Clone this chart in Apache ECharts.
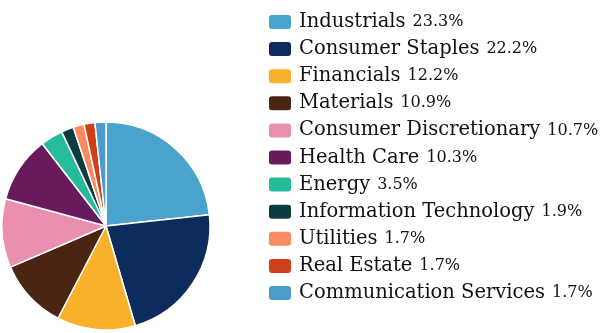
<!DOCTYPE html>
<html><head><meta charset="utf-8">
<script src="https://cdn.jsdelivr.net/npm/echarts@6/dist/echarts.min.js"></script>
<style>html,body{margin:0;padding:0;background:#fff}#c{width:600px;height:333px}</style>
</head><body><div id="c"></div>
<script>
const categories = ["Industrials","Consumer Staples","Financials","Materials","Consumer Discretionary","Health Care","Energy","Information Technology","Utilities","Real Estate","Communication Services"];
const values = [23.3,22.2,12.2,10.9,10.7,10.3,3.5,1.9,1.7,1.7,1.7];
const colors = ["#4aa3cc","#0c2c5c","#f9b12c","#4b2414","#eb8fb0","#691a5c","#25bb9b","#0b3c40","#fc8a60","#cf3f19","#4a9ccb"];

const chart = echarts.init(document.getElementById('c'), null, {renderer:'canvas'});
chart.setOption({
  animation:false,
  color: colors,
  legend: {
    orient:'vertical', left:267, top:12, padding:0,
    itemWidth:24, itemHeight:16, itemGap:7.1, icon:'roundRect',
    selectedMode:false,
    formatter: function(name){
      const i = categories.indexOf(name);
      return '{n|' + name + '}{p|' + values[i].toFixed(1) + '%}';
    },
    textStyle:{
      padding:[0,0,0,2],
      rich:{
        n:{fontFamily:'DejaVu Serif', fontSize:19.5, color:'#111', lineHeight:16},
        p:{fontFamily:'DejaVu Serif', fontSize:16, color:'#111', lineHeight:16, padding:[0,0,0,7]}
      }
    }
  },
  series:[{
    type:'pie', center:[106,226], radius:104, startAngle:90, clockwise:true,
    label:{show:false}, labelLine:{show:false},
    itemStyle:{borderColor:'#fff', borderWidth:1.5},
    data: categories.map((c,i)=>({name:c, value:values[i]}))
  }]
});
</script></body></html>
